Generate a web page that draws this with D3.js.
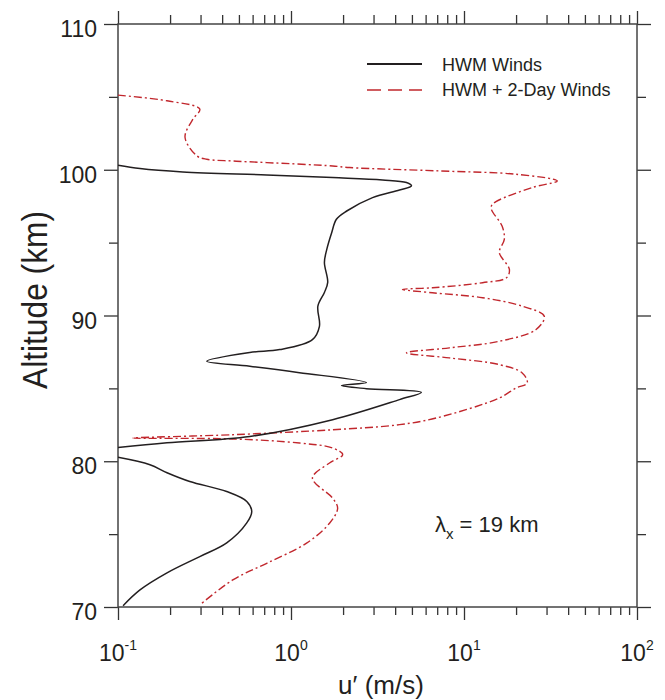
<!DOCTYPE html>
<html>
<head>
<meta charset="utf-8">
<script src="https://cdn.jsdelivr.net/npm/d3@7"></script>
<style>
  html, body { margin: 0; padding: 0; background: #fff; }
  svg { display: block; }
  text { font-family: "Liberation Sans", Arial, sans-serif; fill: #231f20; }
</style>
</head>
<body>
<svg id="chart" width="665" height="700"></svg>
<script>
// Perturbation wind amplitude u' versus altitude
// HWM background winds only (null marks a break in the profile)
const hwmAlt = [100.31, 100.08, 99.85, 99.64, 99.46, 99.30, 99.12, 98.89, 98.61, 98.09,
  97.17, 96.60, 95.70, 94.54, 93.64, 92.27, 91.58, 90.64, 89.26, 88.35,
  87.66, 87.46, 86.86, 86.52, 86.08, 85.40, 85.19, 84.98, 84.73, 84.23,
  82.85, 81.70, 81.27, 80.95, null,
  80.27, 79.76, 79.21, 78.61, 77.92, 77.24, 76.55, 75.77, 74.40, 73.46,
  72.34, 71.17, 70.09];
const hwmU = [0.1, 0.134, 0.237, 0.724, 1.74, 3.38, 4.65, 4.97, 4.24, 2.96,
  2.10, 1.83, 1.72, 1.61, 1.56, 1.63, 1.56, 1.43, 1.46, 1.33,
  0.86, 0.578, 0.326, 0.578, 1.12, 2.73, 1.96, 2.73, 5.67, 4.24,
  1.74, 0.578, 0.192, 0.1, null,
  0.1, 0.153, 0.192, 0.260, 0.425, 0.555, 0.593, 0.555, 0.425, 0.297,
  0.192, 0.134, 0.107];

// HWM plus 2-day wave winds
const comboAlt = [105.12, 104.73, 104.16, 103.47, 102.23, 100.95, 100.72, 100.60, 100.49, 100.26,
  100.15, 99.92, 99.69, 99.23, 98.78, 97.63, 97.29, 96.14, 95.22, 94.33,
  93.16, 92.59, 92.25, 91.90, 91.79, 91.56, 91.22, 90.64, 89.95, 89.04,
  88.23, 87.78, 87.44, 87.09, 86.63, 86.06, 85.37, 85.03, 84.34, 82.97,
  82.51, 82.16, 81.82, 81.59, 81.53, 81.25, 80.91, 80.45, 79.88, 78.85,
  77.47, 76.78, 75.75, 74.38, 73.00, 71.86, 70.14];
const comboU = [0.1, 0.192, 0.297, 0.271, 0.244, 0.286, 0.326, 0.461, 0.724, 1.74,
  2.18, 7.21, 20.0, 34.6, 24.8, 14.6, 14.4, 16.6, 17.1, 16.0,
  18.3, 17.6, 12.8, 6.57, 4.41, 6.57, 12.8, 21.7, 29.1, 26.1,
  16.0, 8.23, 4.65, 8.23, 16.0, 21.7, 23.2, 20.0, 16.0, 6.92,
  4.24, 1.74, 0.461, 0.122, 0.461, 1.12, 1.74, 1.99, 1.67, 1.33,
  1.74, 1.86, 1.67, 1.23, 0.724, 0.461, 0.297];

// Axis ticks
const xMajor = [0.1, 1, 10, 100];
const xExponents = ["-1", "0", "1", "2"];
const xMinor = [];
[0.1, 1, 10].forEach(d => { for (let k = 2; k <= 9; k++) xMinor.push(d * k); });
const yMajor = [70, 80, 90, 100, 110];
const yMinor = [75, 85, 95, 105];

const legendLabels = ["HWM Winds", "HWM + 2-Day Winds"];

const svg = d3.select("#chart");
const plotL = 118, plotR = 637, plotT = 24, plotB = 607;

const x = d3.scaleLog().domain([0.1, 100]).range([plotL, plotR]);
const y = d3.scaleLinear().domain([70, 110]).range([plotB, plotT]);

const ink = "#231f20";
const red = "#c1272d";

// clip to plot area
svg.append("clipPath").attr("id", "plotClip")
  .append("rect").attr("x", plotL).attr("y", plotT)
  .attr("width", plotR - plotL).attr("height", plotB - plotT);

function styleAxis(g) {
  g.select(".domain").remove();
  g.selectAll(".tick line").attr("stroke", "#333").attr("stroke-width", 1.3);
  g.selectAll(".tick text").remove();
}

// bottom axis
svg.append("g").attr("transform", `translate(0,${plotB})`)
  .call(d3.axisBottom(x).tickValues(xMajor).tickSize(13).tickFormat(""))
  .call(styleAxis);
svg.append("g").attr("transform", `translate(0,${plotB})`)
  .call(d3.axisBottom(x).tickValues(xMinor).tickSize(8).tickFormat(""))
  .call(styleAxis);
// top axis
svg.append("g").attr("transform", `translate(0,${plotT})`)
  .call(d3.axisTop(x).tickValues(xMajor).tickSize(13).tickFormat(""))
  .call(styleAxis);
svg.append("g").attr("transform", `translate(0,${plotT})`)
  .call(d3.axisTop(x).tickValues(xMinor).tickSize(9).tickFormat(""))
  .call(styleAxis);
// left axis
svg.append("g").attr("transform", `translate(${plotL},0)`)
  .call(d3.axisLeft(y).tickValues(yMajor).tickSize(14).tickFormat(""))
  .call(styleAxis);
svg.append("g").attr("transform", `translate(${plotL},0)`)
  .call(d3.axisLeft(y).tickValues(yMinor).tickSize(9).tickFormat(""))
  .call(styleAxis);
// right axis
svg.append("g").attr("transform", `translate(${plotR},0)`)
  .call(d3.axisRight(y).tickValues(yMajor).tickSize(14).tickFormat(""))
  .call(styleAxis);
svg.append("g").attr("transform", `translate(${plotR},0)`)
  .call(d3.axisRight(y).tickValues(yMinor).tickSize(9).tickFormat(""))
  .call(styleAxis);

// frame
svg.append("rect")
  .attr("x", plotL).attr("y", plotT)
  .attr("width", plotR - plotL).attr("height", plotB - plotT)
  .attr("fill", "none").attr("stroke", "#444").attr("stroke-width", 1.5);

// y tick labels
svg.append("g").selectAll("text").data(yMajor).join("text")
  .attr("x", plotL - 21).attr("y", d => y(d) + 13)
  .attr("text-anchor", "end").attr("font-size", 23)
  .text(d => d);

// x tick labels: 10 with superscript exponent
const xl = svg.append("g").selectAll("text").data(xMajor).join("text")
  .attr("x", d => x(d)).attr("y", 661)
  .attr("text-anchor", "middle").attr("font-size", 23);
xl.append("tspan").text("10");
xl.append("tspan").attr("font-size", 14).attr("dy", -11).text((d, i) => xExponents[i]);

// axis titles
svg.append("text")
  .attr("x", 381).attr("y", 694)
  .attr("text-anchor", "middle").attr("font-size", 26)
  .text("u\u2032 (m/s)");
svg.append("text")
  .attr("transform", "translate(47,300) rotate(-90)")
  .attr("text-anchor", "middle").attr("font-size", 35)
  .attr("textLength", 178).attr("lengthAdjust", "spacingAndGlyphs")
  .text("Altitude (km)");

// profiles
function profile(alts, us) {
  return alts.map((a, i) => ({ alt: a, u: us[i] }));
}
const line = d3.line()
  .defined(d => d.alt !== null && d.u !== null)
  .x(d => x(d.u)).y(d => y(d.alt))
  .curve(d3.curveCatmullRom.alpha(0.5));

const plot = svg.append("g").attr("clip-path", "url(#plotClip)");
plot.append("path")
  .datum(profile(comboAlt, comboU))
  .attr("d", line)
  .attr("fill", "none").attr("stroke", red).attr("stroke-width", 1.4)
  .attr("stroke-dasharray", "8,3,2,3");
plot.append("path")
  .datum(profile(hwmAlt, hwmU))
  .attr("d", line)
  .attr("fill", "none").attr("stroke", ink).attr("stroke-width", 1.5);

// legend
const lg = svg.append("g");
lg.append("line").attr("x1", 367).attr("x2", 422).attr("y1", 64).attr("y2", 64)
  .attr("stroke", ink).attr("stroke-width", 2.2);
lg.append("line").attr("x1", 367).attr("x2", 422).attr("y1", 90).attr("y2", 90)
  .attr("stroke", red).attr("stroke-width", 1.6).attr("stroke-dasharray", "14,7");
lg.selectAll("text").data(legendLabels).join("text")
  .attr("x", 442).attr("y", (d, i) => 71 + i * 25)
  .attr("font-size", 18)
  .text(d => d);

// wavelength annotation
const ann = svg.append("text").attr("x", 435).attr("y", 532).attr("font-size", 22);
ann.append("tspan").text("\u03bb");
ann.append("tspan").attr("font-size", 15).attr("dy", 7).text("x");
ann.append("tspan").attr("dy", -7).text(" = 19 km");
</script>
</body>
</html>
